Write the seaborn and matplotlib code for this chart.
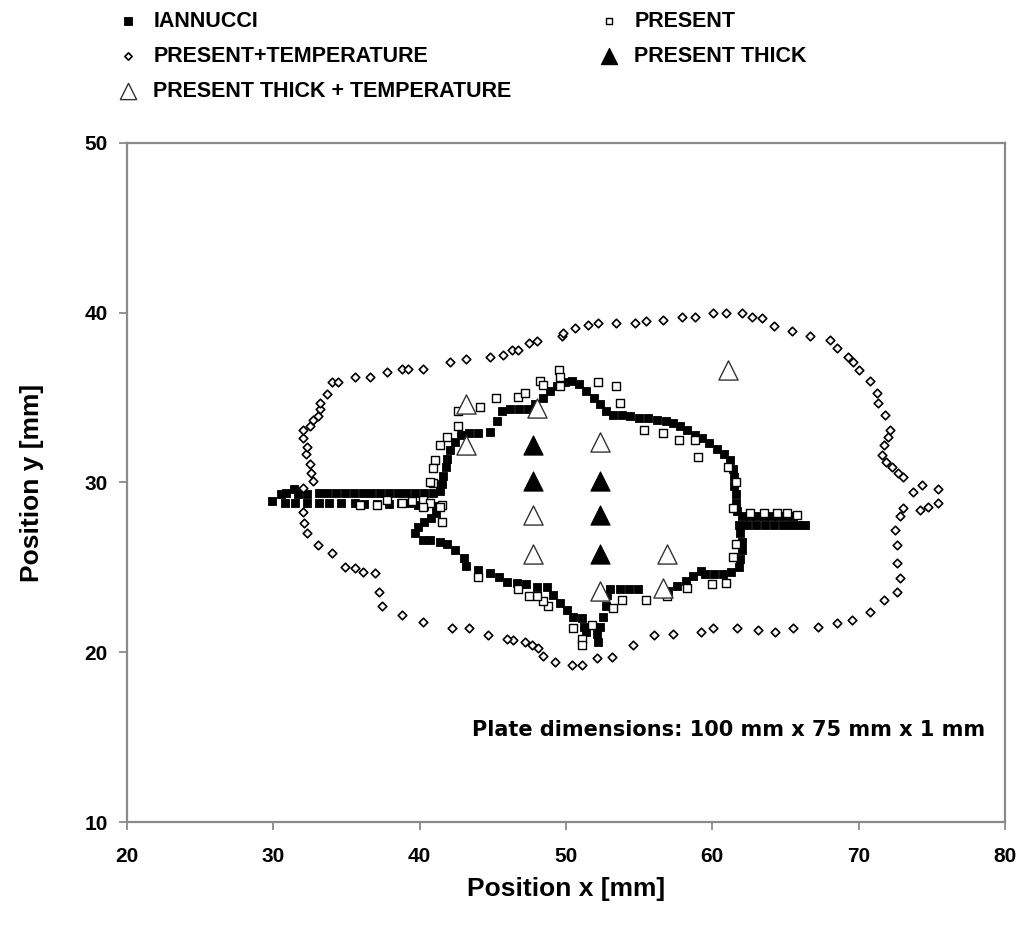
import numpy as np
import pandas as pd
import matplotlib
matplotlib.use("Agg")
import matplotlib.pyplot as plt
import seaborn as sns

# ---------------- data ----------------
iannucci_x = [29.9, 30.5, 30.9, 31.4, 31.7, 32.3, 30.8, 31.5, 32.3, 33.1, 33.8, 34.6, 35.6, 36.2, 37.1, 37.9, 38.7, 39.3, 39.9, 40.3,
              33.1, 33.7, 34.3, 34.9, 35.5, 36.1, 36.7, 37.3, 37.9, 38.5, 39.1, 39.7, 40.3, 40.9, 41.4,
              41.5, 41.6, 41.8, 41.9, 42.1, 42.4, 42.8, 43.4, 44.0, 44.8, 45.3, 45.6, 46.2, 46.8, 47.4, 47.9, 48.4, 48.9,
              49.4, 49.9, 50.4, 50.9, 51.4, 51.9, 52.3, 52.7, 53.2, 53.8, 54.4, 55.0, 55.6, 56.2, 56.8, 57.3, 57.8, 58.3,
              58.8, 59.3, 59.8, 60.3, 60.8, 61.2, 61.4, 61.5, 61.5, 61.6, 61.6, 61.7,
              62.0, 62.5, 63.0, 63.5, 64.0, 64.5, 65.0, 65.5,
              61.8, 62.4, 63.0, 63.6, 64.2, 64.8, 65.4, 65.9, 66.3,
              61.9, 62.0, 62.0, 61.9, 61.8, 61.3, 60.7, 60.1, 59.5, 59.2, 58.7, 58.2, 57.6, 57.0, 56.6,
              54.9, 54.3, 53.7, 53.0, 52.8, 52.7, 52.5, 52.3, 52.2, 52.1, 51.4, 51.2, 51.1, 50.5, 50.1, 49.6, 49.1,
              48.7, 48.0, 47.3, 46.65, 46.0, 45.4, 44.8, 44.0, 43.2, 43.0, 42.4, 41.9, 41.4, 40.7, 40.2, 39.7, 39.9,
              40.3, 40.8, 41.1, 41.1]
iannucci_y = [28.9, 29.3, 29.4, 29.6, 29.3, 29.3, 28.8, 28.8, 28.8, 28.8, 28.8, 28.8, 28.8, 28.75, 28.75, 28.75, 28.8, 28.8, 28.7, 28.6,
              29.4, 29.4, 29.4, 29.4, 29.4, 29.4, 29.4, 29.4, 29.4, 29.4, 29.4, 29.4, 29.4, 29.4, 29.5,
              29.9, 30.4, 30.9, 31.4, 31.9, 32.4, 32.8, 32.9, 32.9, 33.0, 33.6, 34.2, 34.3, 34.3, 34.3, 34.6, 35.0, 35.4,
              35.7, 35.9, 36.0, 35.8, 35.4, 35.0, 34.6, 34.2, 34.0, 34.0, 33.9, 33.8, 33.8, 33.7, 33.6, 33.5, 33.3, 33.1,
              32.8, 32.6, 32.3, 32.0, 31.7, 31.3, 30.8, 30.3, 29.8, 29.3, 28.8, 28.3,
              28.0, 28.0, 28.0, 28.0, 28.0, 28.0, 28.0, 28.0,
              27.5, 27.5, 27.5, 27.5, 27.5, 27.5, 27.5, 27.5, 27.5,
              27.0, 26.5, 26.0, 25.5, 25.0, 24.7, 24.6, 24.6, 24.6, 24.8, 24.5, 24.2, 23.9, 23.6, 23.5,
              23.7, 23.7, 23.7, 23.7, 23.4, 22.7, 22.1, 21.5, 20.6, 21.1, 21.2, 21.5, 22.0, 22.1, 22.5, 22.9, 23.4,
              23.85, 23.85, 24.0, 24.1, 24.15, 24.45, 24.67, 24.85, 25.1, 25.55, 26.0, 26.4, 26.5, 26.6, 26.6, 27.0, 27.4,
              27.7, 27.9, 28.2, 28.6]

present_x = [35.9, 37.1, 37.75, 38.8, 39.5, 40.25, 40.7, 40.9, 41.5, 41.5, 40.25,
             42.6, 41.9, 41.4, 41.05, 40.9, 40.7, 41.4,
             42.6, 44.1, 45.2, 46.7, 47.2, 48.2, 48.4, 49.5, 49.6, 49.6, 52.2, 53.4, 53.7,
             55.3, 56.6, 57.7, 58.8, 59.0, 61.1, 61.6, 61.4, 62.6, 63.5, 64.4, 65.1, 65.8,
             61.6, 61.4, 60.9, 60.0, 58.3, 56.9, 55.5, 53.8, 53.2, 51.8, 51.1, 51.1, 50.5,
             48.8, 48.4, 48.0, 47.5, 46.7, 44.0]
present_y = [28.7, 28.7, 28.97, 28.8, 28.9, 28.97, 28.8, 29.97, 28.67, 27.7, 28.55,
             33.3, 32.7, 32.2, 31.3, 30.85, 30.0, 28.55,
             34.2, 34.45, 35.0, 35.04, 35.3, 36.0, 35.74, 36.6, 36.2, 35.7, 35.9, 35.7, 34.7,
             33.1, 32.9, 32.5, 32.5, 31.5, 30.9, 30.0, 28.5, 28.2, 28.2, 28.2, 28.2, 28.1,
             26.4, 25.6, 24.1, 24.0, 23.8, 23.3, 23.1, 23.1, 22.6, 21.6, 20.8, 20.4, 21.4,
             22.7, 23.0, 23.3, 23.3, 23.7, 24.45]

present_temp_x = [32.0, 32.7, 32.6, 32.5, 32.2, 32.3, 32.0, 32.0, 32.5, 32.7, 33.05, 33.2, 33.2, 33.7, 34.0, 34.4,
                  35.6, 36.6, 37.8, 38.8, 39.2, 40.2, 42.1, 43.2, 44.8, 45.7, 46.3, 46.7, 47.5, 48.0, 49.7, 49.8,
                  50.6, 51.5, 52.2, 53.4, 54.7, 55.5, 56.6, 57.9, 58.8, 60.05, 60.9, 62.0, 62.7, 63.4, 64.2, 65.45,
                  66.7, 68.05, 68.5, 69.3, 69.6, 70.0, 70.8, 71.25, 71.3, 71.8, 72.15, 72.0, 71.7, 71.6, 71.9, 72.3,
                  72.7, 73.0, 73.7, 74.3, 75.4, 75.4, 74.75, 74.2, 73.0, 72.8, 72.5, 72.6, 72.6, 72.8, 72.6, 71.7,
                  70.8, 69.55, 68.5, 67.2, 65.5, 64.3, 63.1, 61.7, 60.05, 59.2, 57.3, 56.0, 54.6, 53.15, 52.1, 51.1,
                  50.4, 49.25, 48.4, 48.1, 47.7, 47.2, 46.4, 46.0, 44.7, 43.4, 42.2, 40.2, 38.8, 37.4, 37.2, 36.95,
                  36.1, 35.6, 34.9, 34.0, 33.05, 32.3, 32.1, 32.0]
present_temp_y = [29.7, 30.1, 30.55, 31.1, 31.7, 32.1, 32.6, 33.1, 33.3, 33.7, 33.9, 34.3, 34.7, 35.2, 35.9, 35.9,
                  36.2, 36.2, 36.5, 36.7, 36.7, 36.7, 37.1, 37.25, 37.4, 37.5, 37.8, 37.8, 38.2, 38.35, 38.6, 38.8,
                  39.1, 39.3, 39.4, 39.4, 39.4, 39.5, 39.55, 39.75, 39.75, 40.0, 40.0, 40.0, 39.75, 39.7, 39.2, 38.9,
                  38.6, 38.4, 37.9, 37.4, 37.1, 36.6, 36.0, 35.3, 34.7, 34.0, 33.1, 32.7, 32.2, 31.6, 31.2, 30.9,
                  30.55, 30.3, 29.45, 29.85, 29.6, 28.8, 28.55, 28.4, 28.5, 28.0, 27.2, 26.3, 25.25, 24.4, 23.55, 23.1,
                  22.4, 21.9, 21.7, 21.5, 21.4, 21.2, 21.3, 21.4, 21.4, 21.2, 21.1, 21.0, 20.4, 19.7, 19.65, 19.25,
                  19.25, 19.4, 19.8, 20.25, 20.4, 20.6, 20.7, 20.8, 21.0, 21.4, 21.4, 21.8, 22.2, 22.7, 23.55, 24.67,
                  24.7, 24.96, 25.0, 25.85, 26.3, 27.0, 27.6, 28.26]

thick_x = [47.75, 47.75, 52.3, 52.3, 52.3]
thick_y = [32.2, 30.1, 30.1, 28.1, 25.8]

thick_temp_x = [43.2, 43.2, 48.0, 52.3, 47.75, 47.75, 52.3, 56.9, 56.6, 61.1]
thick_temp_y = [34.6, 32.2, 34.4, 32.4, 28.1, 25.8, 23.6, 25.8, 23.8, 36.6]

x_ticks = [20, 30, 40, 50, 60, 70, 80]
y_ticks = [10, 20, 30, 40, 50]

labels = ["IANNUCCI", "PRESENT", "PRESENT+TEMPERATURE", "PRESENT THICK", "PRESENT THICK + TEMPERATURE"]

# ---------------- plot ----------------
sns.set_style("white")
plt.rcParams['font.family'] = ['Liberation Sans', 'DejaVu Sans']
plt.rcParams['font.weight'] = 'bold'
plt.rcParams['text.color'] = 'black'
plt.rcParams['axes.labelcolor'] = 'black'

fig = plt.figure(figsize=(10.19, 9.26), dpi=100)
ax = fig.add_axes([0.1246, 0.1123, 0.8617, 0.7333])

sns.scatterplot(x=iannucci_x, y=iannucci_y, marker='s', color='black', edgecolor='black',
                s=36, linewidth=0.6, ax=ax, label=labels[0], zorder=3)
sns.scatterplot(x=present_x, y=present_y, marker='s', color='white', edgecolor='black',
                s=34, linewidth=1.0, ax=ax, label=labels[1], zorder=4)
sns.scatterplot(x=present_temp_x, y=present_temp_y, marker='D', color='white', edgecolor='black',
                s=19, linewidth=1.2, ax=ax, label=labels[2], zorder=4)
sns.scatterplot(x=thick_x, y=thick_y, marker='^', color='black', edgecolor='black',
                s=190, linewidth=0.8, ax=ax, label=labels[3], zorder=5)
sns.scatterplot(x=thick_temp_x, y=thick_temp_y, marker='^', color='white', edgecolor='#333333',
                s=190, linewidth=1.0, ax=ax, label=labels[4], zorder=5)

ax.set_xlim(20, 80)
ax.set_ylim(10, 50)
ax.set_xticks(x_ticks)
ax.set_yticks(y_ticks)
ax.set_xticklabels([str(t) for t in x_ticks], fontsize=15, fontweight='bold', color='black')
ax.set_yticklabels([str(t) for t in y_ticks], fontsize=15, fontweight='bold', color='black')
ax.set_xlabel("Position x [mm]", fontsize=19, fontweight='bold', labelpad=8, color='black')
ax.set_ylabel("Position y [mm]", fontsize=19, fontweight='bold', labelpad=29, color='black')

for sp in ax.spines.values():
    sp.set_visible(True)
    sp.set_color('#8a8a8a')
    sp.set_linewidth(1.6)
ax.tick_params(axis='both', which='major', direction='out', length=6, width=1.3,
               color='#8a8a8a', labelcolor='black', left=True, bottom=True)
ax.tick_params(axis='x', pad=12)
ax.tick_params(axis='y', pad=8)

ax.text(43.6, 15.4, "Plate dimensions: 100 mm x 75 mm x 1 mm", fontsize=15, fontweight='bold',
        family=['DejaVu Sans'], ha='left', va='center', color='black')

handles, labs = ax.get_legend_handles_labels()
ax.get_legend().remove()
hmap = dict(zip(labs, handles))
order = [labels[0], labels[2], labels[4], labels[1], labels[3]]
fig.legend([hmap[l] for l in order], order, ncol=2, loc='upper left',
           bbox_to_anchor=(0.0956, 1.009), frameon=False,
           handlelength=1.0, handletextpad=0.7, columnspacing=4.0, labelspacing=0.65,
           markerscale=0.85, labelcolor='black',
           prop={'weight': 'bold', 'size': 15.5})

fig.savefig("out.png", dpi=100)
